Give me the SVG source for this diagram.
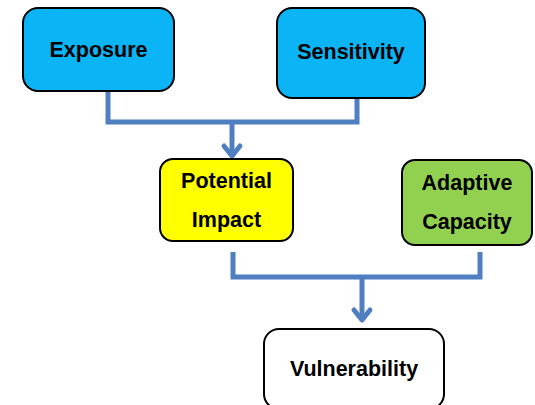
<svg xmlns="http://www.w3.org/2000/svg" width="535" height="405" viewBox="0 0 535 405">
<style>
.box{stroke:#000;stroke-width:2}
.lbl{font-family:"Liberation Sans",Arial,sans-serif;font-weight:bold;font-size:21.5px;fill:#000;text-anchor:middle}
.con{fill:none;stroke:#4F7FC0;stroke-width:5}
.head{fill:none;stroke:#4F7FC0;stroke-width:5;stroke-linecap:round;stroke-linejoin:round}
</style>
<rect width="535" height="405" fill="#fff"/>
<g id="connectors">
<path class="con" d="M108 91 V122 H357 V98"/>
<path class="con" d="M232 122 V156"/>
<path class="head" d="M224 146 L232 156 L240 146"/>
<path class="con" d="M233 252 V277 H480 V252"/>
<path class="con" d="M362 277 V320"/>
<path class="head" d="M354 310 L362 320 L370 310"/>
</g>
<g id="exposure">
<rect class="box" x="23" y="8" width="151" height="83" rx="15" fill="#0AB4F5"/>
<text class="lbl" x="98.5" y="57">Exposure</text>
</g>
<g id="sensitivity">
<rect class="box" x="277" y="8" width="148" height="90" rx="15" fill="#0AB4F5"/>
<text class="lbl" x="351" y="59">Sensitivity</text>
</g>
<g id="potential-impact">
<rect class="box" x="160" y="159" width="133" height="82" rx="13" fill="#FFFF00"/>
<text class="lbl" x="226.5" y="188">Potential</text>
<text class="lbl" x="226.5" y="227">Impact</text>
</g>
<g id="adaptive-capacity">
<rect class="box" x="402" y="160" width="130" height="85" rx="13" fill="#92D050"/>
<text class="lbl" x="467" y="190">Adaptive</text>
<text class="lbl" x="467" y="229">Capacity</text>
</g>
<g id="vulnerability">
<rect class="box" x="264" y="329" width="180" height="80" rx="15" fill="#fff"/>
<text class="lbl" x="354" y="376">Vulnerability</text>
</g>
</svg>
